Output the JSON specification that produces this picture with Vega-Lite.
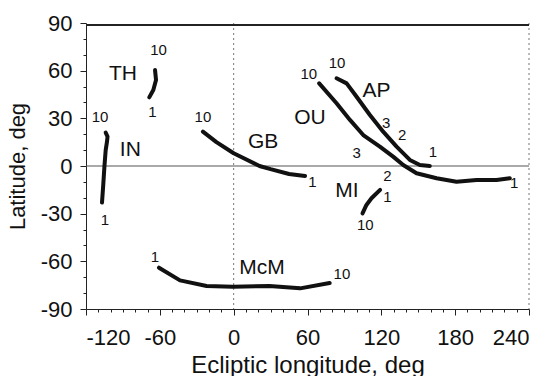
{
  "$schema": "https://vega.github.io/schema/vega-lite/v6.json",
  "width": 443,
  "height": 286,
  "autosize": "none",
  "padding": {"left": 86, "top": 23, "right": 24, "bottom": 67},
  "background": "white",
  "config": {
    "view": {"stroke": null},
    "font": "Liberation Sans",
    "axis": {"grid": false, "labelOverlap": false, "domainColor": "#222", "tickColor": "#222", "labelColor": "#111", "titleColor": "#111", "labelFont": "Liberation Sans", "titleFont": "Liberation Sans", "titleFontWeight": "normal"}
  },
  "datasets": {
    "curves": [
      {"name": "TH", "order": 1, "lon": -68.6, "lat": 43.2},
      {"name": "TH", "order": 2, "lon": -65.3, "lat": 47.8},
      {"name": "TH", "order": 3, "lon": -63.1, "lat": 54.1},
      {"name": "TH", "order": 4, "lon": -63.9, "lat": 60.4},
      {"name": "IN", "order": 1, "lon": -107, "lat": -23},
      {"name": "IN", "order": 2, "lon": -106, "lat": -12},
      {"name": "IN", "order": 3, "lon": -105, "lat": 0},
      {"name": "IN", "order": 4, "lon": -104, "lat": 10},
      {"name": "IN", "order": 5, "lon": -103, "lat": 15},
      {"name": "IN", "order": 6, "lon": -102.5, "lat": 18.5},
      {"name": "IN", "order": 7, "lon": -104, "lat": 21},
      {"name": "GB", "order": 1, "lon": 58, "lat": -6.3},
      {"name": "GB", "order": 2, "lon": 45, "lat": -5},
      {"name": "GB", "order": 3, "lon": 30, "lat": -2},
      {"name": "GB", "order": 4, "lon": 21, "lat": 0},
      {"name": "GB", "order": 5, "lon": 0, "lat": 8},
      {"name": "GB", "order": 6, "lon": -14, "lat": 15},
      {"name": "GB", "order": 7, "lon": -25, "lat": 21.6},
      {"name": "OU", "order": 1, "lon": 224.4, "lat": -7.7},
      {"name": "OU", "order": 2, "lon": 213.6, "lat": -8.8},
      {"name": "OU", "order": 3, "lon": 197.4, "lat": -8.8},
      {"name": "OU", "order": 4, "lon": 181.1, "lat": -9.9},
      {"name": "OU", "order": 5, "lon": 164.9, "lat": -7.7},
      {"name": "OU", "order": 6, "lon": 148.6, "lat": -4.6},
      {"name": "OU", "order": 7, "lon": 137.8, "lat": 0.6},
      {"name": "OU", "order": 8, "lon": 129.6, "lat": 5.9},
      {"name": "OU", "order": 9, "lon": 118.8, "lat": 12.2},
      {"name": "OU", "order": 10, "lon": 105.3, "lat": 19.5},
      {"name": "OU", "order": 11, "lon": 94.5, "lat": 29},
      {"name": "OU", "order": 12, "lon": 83.6, "lat": 39.5},
      {"name": "OU", "order": 13, "lon": 69.5, "lat": 52},
      {"name": "AP", "order": 1, "lon": 159.4, "lat": 0},
      {"name": "AP", "order": 2, "lon": 151.3, "lat": 0.6},
      {"name": "AP", "order": 3, "lon": 143.2, "lat": 3.8},
      {"name": "AP", "order": 4, "lon": 132.4, "lat": 12.2},
      {"name": "AP", "order": 5, "lon": 121.5, "lat": 21.6},
      {"name": "AP", "order": 6, "lon": 110.7, "lat": 32.1},
      {"name": "AP", "order": 7, "lon": 99.9, "lat": 43.6},
      {"name": "AP", "order": 8, "lon": 91.8, "lat": 52},
      {"name": "AP", "order": 9, "lon": 83.6, "lat": 55.2},
      {"name": "MI", "order": 1, "lon": 119, "lat": -15},
      {"name": "MI", "order": 2, "lon": 112, "lat": -20.3},
      {"name": "MI", "order": 3, "lon": 107.9, "lat": -24.5},
      {"name": "MI", "order": 4, "lon": 104.7, "lat": -29.8},
      {"name": "McM", "order": 1, "lon": -60.7, "lat": -64},
      {"name": "McM", "order": 2, "lon": -43.6, "lat": -72},
      {"name": "McM", "order": 3, "lon": -22, "lat": -75.5},
      {"name": "McM", "order": 4, "lon": -0.6, "lat": -76},
      {"name": "McM", "order": 5, "lon": 29, "lat": -75.5},
      {"name": "McM", "order": 6, "lon": 54, "lat": -77},
      {"name": "McM", "order": 7, "lon": 78, "lat": -73.6}
    ],
    "labels": [
      {"text": "TH", "kind": "name", "lon": -90, "lat": 58},
      {"text": "10", "kind": "num", "lon": -61, "lat": 73},
      {"text": "1", "kind": "num", "lon": -66, "lat": 34},
      {"text": "IN", "kind": "name", "lon": -84, "lat": 10},
      {"text": "10", "kind": "num", "lon": -108.6, "lat": 31},
      {"text": "1", "kind": "num", "lon": -104.6, "lat": -34},
      {"text": "GB", "kind": "name", "lon": 24, "lat": 15},
      {"text": "10", "kind": "num", "lon": -25, "lat": 31},
      {"text": "1", "kind": "num", "lon": 64, "lat": -10},
      {"text": "OU", "kind": "name", "lon": 62, "lat": 30},
      {"text": "10", "kind": "num", "lon": 61, "lat": 58},
      {"text": "3", "kind": "num", "lon": 100, "lat": 8},
      {"text": "2", "kind": "num", "lon": 125, "lat": -6},
      {"text": "1", "kind": "num", "lon": 228, "lat": -11},
      {"text": "AP", "kind": "name", "lon": 116, "lat": 47},
      {"text": "10", "kind": "num", "lon": 84, "lat": 65},
      {"text": "3", "kind": "num", "lon": 124, "lat": 27},
      {"text": "2", "kind": "num", "lon": 137, "lat": 19.5},
      {"text": "1", "kind": "num", "lon": 162, "lat": 9},
      {"text": "MI", "kind": "name", "lon": 92, "lat": -16},
      {"text": "1", "kind": "num", "lon": 125, "lat": -19.5},
      {"text": "10", "kind": "num", "lon": 107, "lat": -37},
      {"text": "McM", "kind": "name", "lon": 23, "lat": -64},
      {"text": "1", "kind": "num", "lon": -64, "lat": -57},
      {"text": "10", "kind": "num", "lon": 88, "lat": -68}
    ]
  },
  "encoding": {
    "x": {
      "field": "lon", "type": "quantitative",
      "scale": {"domain": [-120, 240], "nice": false, "zero": false},
      "axis": {
        "title": "Ecliptic longitude, deg",
        "values": [-120,-110,-100,-90,-80,-70,-60,-50,-40,-30,-20,-10,0,10,20,30,40,50,60,70,80,90,100,110,120,130,140,150,160,170,180,190,200,210,220,230,240],
        "labelExpr": "datum.value % 60 !== 0 ? '' : (datum.value < 0 ? '-' + abs(datum.value) : '' + datum.value)",
        "labelFontSize": 22,
        "titleFontSize": 24,
        "labelPadding": 12,
        "titlePadding": 5,
        "tickSize": {"condition": {"test": "datum.value % 60 === 0", "value": 6}, "value": 3}
      }
    },
    "y": {
      "field": "lat", "type": "quantitative",
      "scale": {"domain": [-90, 90], "nice": false, "zero": false},
      "axis": {
        "title": "Latitude, deg",
        "values": [-90,-80,-70,-60,-50,-40,-30,-20,-10,0,10,20,30,40,50,60,70,80,90],
        "labelExpr": "datum.value % 30 !== 0 ? '' : (datum.value < 0 ? '-' + abs(datum.value) : '' + datum.value)",
        "labelFontSize": 22,
        "titleFontSize": 22,
        "labelPadding": 8,
        "titlePadding": 11,
        "tickSize": {"condition": {"test": "datum.value % 30 === 0", "value": 6}, "value": 3}
      }
    }
  },
  "layer": [
    {
      "data": {"values": [{"vx": 0}, {"vx": 240}]},
      "mark": {"type": "rule", "color": "#777", "strokeDash": [2, 3], "strokeWidth": 1},
      "encoding": {"x": {"field": "vx", "type": "quantitative"}, "y": null}
    },
    {
      "data": {"values": [{"hz": 0}]},
      "mark": {"type": "rule", "color": "#555", "strokeWidth": 1},
      "encoding": {"y": {"field": "hz", "type": "quantitative"}, "x": null}
    },
    {
      "data": {"values": [{"edge": 88.8}]},
      "mark": {"type": "rule", "color": "#222", "strokeWidth": 2},
      "encoding": {"y": {"field": "edge", "type": "quantitative"}, "x": null}
    },
    {
      "data": {"name": "curves"},
      "mark": {"type": "line", "strokeWidth": 4, "color": "#111", "strokeCap": "round", "strokeJoin": "round"},
      "encoding": {
        "detail": {"field": "name"},
        "order": {"field": "order", "type": "quantitative"}
      }
    },
    {
      "data": {"name": "labels"},
      "mark": {"type": "text", "color": "#111", "align": "center", "baseline": "middle"},
      "encoding": {
        "text": {"field": "text"},
        "size": {"field": "kind", "type": "nominal", "scale": {"domain": ["name", "num"], "range": [21, 15]}, "legend": null}
      }
    }
  ]
}
